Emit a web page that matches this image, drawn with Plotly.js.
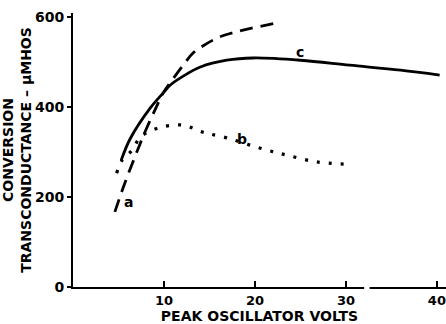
<!DOCTYPE html>
<html><head><meta charset="utf-8">
<script src="https://cdn.plot.ly/plotly-3.0.1.min.js"></script>
<style>html,body{margin:0;padding:0;background:#fff}</style>
</head><body>
<div id="chart" style="width:446px;height:324px"></div>
<script>
// Curve a (long dashes)
const aX = [4.6, 5.5, 5.9, 6.8, 7.9, 9.0, 9.9, 10.9, 12.3, 13.2, 15.4, 16.7, 18.7, 22.4];
const aY = [167, 220, 242, 289, 344, 393, 431, 460, 498, 520, 549, 560, 571, 587];
// Curve b (dotted)
const bX = [4.8, 5.4, 6.5, 7.4, 9.3, 12.0, 14.3, 17.0, 20.5, 23.5, 26.8, 30.1];
const bY = [253, 282, 304, 333, 353, 360, 344, 331, 309, 293, 278, 273];
// Curve c (solid)
const cX = [5.3, 6.3, 8.5, 9.9, 10.7, 12.3, 14.0, 16.9, 19.8, 25.0, 30.4, 36.0, 40.3];
const cY = [282, 330, 398, 431, 449, 471, 489, 504, 509, 504, 493, 482, 471];
const curveLabels = ["a", "b", "c"];
const labelX = [6.1, 18.6, 25.0];
const labelY = [190, 330, 522];
const xTicks = [10, 20, 30, 40];
const yTicks = [0, 200, 400, 600];

const ink = "#000";
const fam = "DejaVu Sans, sans-serif";
const traces = [
  {x: aX, y: aY, mode: "lines", line: {color: ink, width: 2.8, dash: "13px,8px", shape: "spline"}},
  {x: bX, y: bY, mode: "lines", line: {color: ink, width: 3.2, dash: "3px,9px", shape: "spline"}},
  {x: cX, y: cY, mode: "lines", line: {color: ink, width: 2.8, shape: "spline"}}
];
const annotations = curveLabels.map((t, i) => ({
  x: labelX[i], y: labelY[i], text: t, showarrow: false,
  font: {family: fam, size: 14, color: ink, weight: "bold"}
}));
Plotly.newPlot("chart", traces, {
  width: 446, height: 324,
  margin: {l: 73, r: 0, t: 13, b: 37},
  paper_bgcolor: "#fff", plot_bgcolor: "#fff",
  showlegend: false,
  font: {family: fam, size: 12, color: ink},
  xaxis: {
    range: [0, 41], tickvals: xTicks, ticktext: xTicks.map(String),
    showgrid: false, zeroline: false, showline: true, linecolor: ink, linewidth: 2,
    ticks: "inside", ticklen: 6, tickwidth: 2, tickcolor: ink,
    tickfont: {family: fam, size: 13, color: ink, weight: "bold"},
    title: {text: "PEAK OSCILLATOR VOLTS", font: {family: fam, size: 14, color: ink, weight: "bold"}, standoff: 0}
  },
  yaxis: {
    range: [0, 609], tickvals: yTicks, ticktext: yTicks.map(String),
    showgrid: false, zeroline: false, showline: true, linecolor: ink, linewidth: 2,
    ticks: "outside", ticklen: 4, tickwidth: 2, tickcolor: ink,
    tickfont: {family: fam, size: 14, color: ink, weight: "bold"},
    title: {text: "CONVERSION<br>TRANSCONDUCTANCE \u2013 \u03bcMHOS", font: {family: fam, size: 14, color: ink, weight: "bold"}, standoff: 1}
  },
  shapes: [{type: "rect", xref: "x", yref: "paper", x0: 32.0, x1: 32.6, y0: -0.02, y1: 0.02,
            fillcolor: "#fff", line: {width: 0}, layer: "above"}],
  annotations: annotations
}, {displayModeBar: false, staticPlot: true});
</script>
</body></html>
